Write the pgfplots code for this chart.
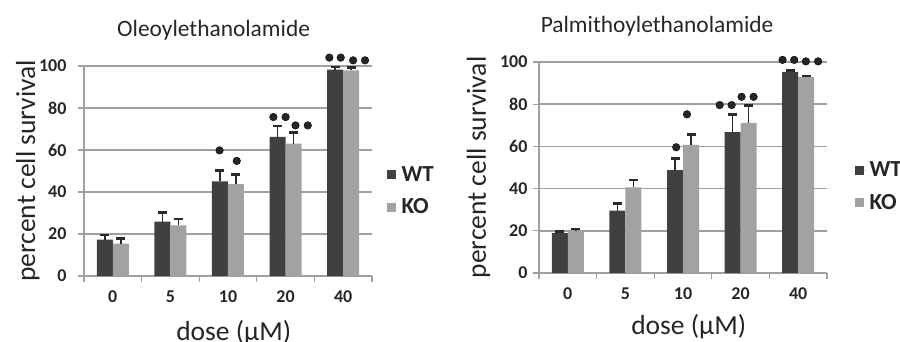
\documentclass[border=0pt]{standalone}
\usepackage{pgfplots}
\pgfplotsset{compat=1.18}
\usepackage{fontspec}
\setmainfont{Carlito}
\definecolor{wt}{HTML}{404040}
\definecolor{ko}{HTML}{A2A2A2}
\definecolor{gridc}{HTML}{A0A0A0}
\definecolor{errc}{HTML}{2A2A2A}

\pgfplotstableread{
x wt wterr ko koerr
0 17.3 2.1 15.4 2.4
1 25.9 4.3 24.1 3.0
2 45.1 5.2 43.7 4.6
3 66.2 5.1 63.0 5.3
4 98.3 1.2 97.9 1.3
}\oleo
\pgfplotstableread{
x wt wterr ko koerr
0 18.9 0.8 19.8 1.0
1 29.6 3.4 40.6 3.5
2 48.7 5.5 60.7 5.0
3 66.8 8.3 71.2 8.2
4 95.3 0.6 92.8 0.6
}\palm

\pgfplotsset{
 mystyle/.style={
  scale only axis, clip=false, ybar, bar width=16pt,
  xmin=-0.5, xmax=4.5, ymin=0, ymax=100,
  ytick={0,20,...,100},
  xtick={-0.5,0.5,...,4.5}, xticklabels={},
  extra x ticks={0,1,2,3,4}, extra x tick labels={0,5,10,20,40},
  extra x tick style={major tick length=0pt, grid=none},
  ymajorgrids, major grid style={gridc, line width=1.5pt},
  axis x line*=bottom, axis y line*=left,
  axis line style={gridc, line width=1.5pt},
  tick align=outside, major tick length=6pt,
  tick style={gridc, line width=1.3pt},
  /pgf/number format/assume math mode=true,
  tick label style={font=\bfseries\fontsize{18}{20}\selectfont, text=black!85},
  xticklabel style={yshift=-11pt},
  label style={font=\fontsize{27.5}{30}\selectfont, text=black!85},
  title style={font=\fontsize{23.4}{26}\selectfont, text=black!85},
  legend style={draw=none, fill=none, font=\bfseries\fontsize{23}{25}\selectfont,
    row sep=12pt, inner sep=0pt, legend cell align=left, text=black!85},
  legend image code/.code={\fill[##1] (0pt,-4.5pt) rectangle (9pt,4.5pt); \path (0pt,0pt) -- (13pt,0pt);},
 },
 errs/.style={error bars/.cd, y dir=plus, y explicit,
   error bar style={errc, line width=1.5pt},
   error mark options={rotate=90, errc, mark size=4.5pt, line width=2.4pt}},
 wtbar/.style={bar shift=-8pt, fill=wt, draw=none, errs},
 kobar/.style={bar shift=8pt, fill=ko, draw=none, errs},
 stars/.style={only marks, mark=*, mark size=3.8pt, mark options={fill=black!85, draw=none}, forget plot},
}

\begin{document}
\begin{tikzpicture}
\useasboundingbox (0,0) rectangle (900pt,341pt);

\begin{axis}[mystyle, at={(84pt,65pt)}, anchor=south west, width=288pt, height=210pt,
  yticklabel style={xshift=-8pt},
  title={Oleoylethanolamide}, title style={at={(axis description cs:0.45,1)}, anchor=south, yshift=16pt},
  xlabel={dose (µM)}, xlabel style={at={(axis description cs:0.52,0)}, anchor=center, yshift=-57pt},
  ylabel={percent cell survival}, ylabel style={at={(axis description cs:-0.195,0.5)}, anchor=center},
  legend style={at={(axis description cs:1.05,0.405)}, anchor=west}]
\addplot[wtbar] table[x=x, y=wt, y error=wterr] {\oleo};
\addlegendentry{WT}
\addplot[kobar] table[x=x, y=ko, y error=koerr] {\oleo};
\addlegendentry{KO}
\addplot[stars] coordinates {(1.853,59.8) (2.152,54.8) (2.788,75.7) (3.0,75.7) (3.172,71.7) (3.385,71.7) (3.759,104) (3.957,104) (4.172,102.7) (4.379,102.7)};
\end{axis}

\begin{axis}[mystyle, at={(539pt,68pt)}, anchor=south west, width=288pt, height=211pt,
  yticklabel style={xshift=-2pt},
  title={Palmithoylethanolamide}, title style={at={(axis description cs:0.41,1)}, anchor=south, yshift=16pt},
  xlabel={dose (µM)}, xlabel style={at={(axis description cs:0.52,0)}, anchor=center, yshift=-54pt},
  ylabel={percent cell survival}, ylabel style={at={(axis description cs:-0.21,0.5)}, anchor=center},
  legend style={at={(axis description cs:1.095,0.41)}, anchor=west}]
\addplot[wtbar] table[x=x, y=wt, y error=wterr] {\palm};
\addlegendentry{WT}
\addplot[kobar] table[x=x, y=ko, y error=koerr] {\palm};
\addlegendentry{KO}
\addplot[stars] coordinates {(1.882,59.6) (2.069,75.2) (2.637,79.6) (2.844,79.6) (3.017,83.5) (3.225,83.5) (3.728,101) (3.931,101) (4.133,100.3) (4.346,100.3)};
\end{axis}
\end{tikzpicture}
\end{document}
